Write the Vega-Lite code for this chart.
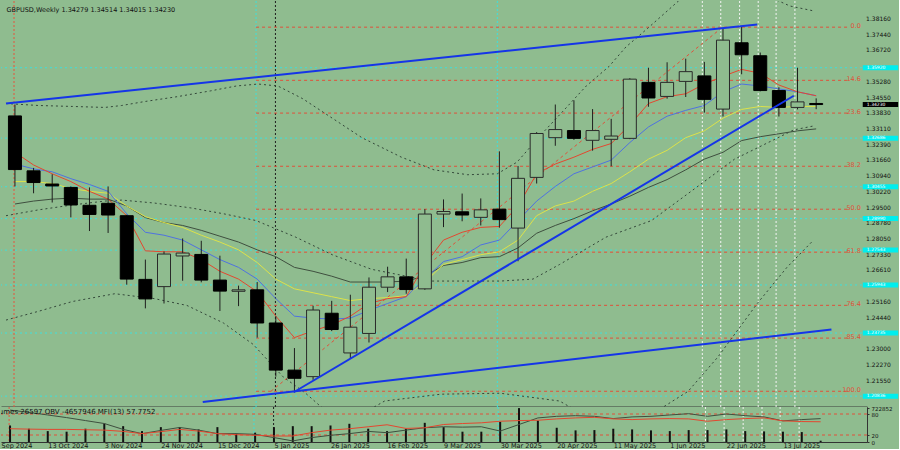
{
"$schema": "https://vega.github.io/schema/vega-lite/v6.json",
"background": "#8fbc8f",
"padding": 0,
"spacing": 0,
"bounds": "flush",
"config": {"view": {"stroke": null, "fill": "#8fbc8f"}, "axis": {"labelFont": "DejaVu Sans", "labelFontSize": 6.5, "labelColor": "#111", "domainColor": "#333", "tickColor": "#333", "grid": false, "title": null, "labelOverlap": false, "labelBound": false}, "text": {"font": "DejaVu Sans"}},
"datasets": {
"k": [
{"i":0,"o":1.33707,"h":1.34231,"l":1.30468,"c":1.31243,"r":1.32036,"b":1.31498,"yl":1.30692,"g":1.29662,"v":341000,"m":37.9,"obv":-3070000},
{"i":1,"o":1.31185,"h":1.31319,"l":1.30154,"c":1.30647,"r":1.31454,"b":1.31274,"yl":1.30692,"g":1.29796,"v":274000,"m":36.8,"obv":-3500000},
{"i":2,"o":1.3058,"h":1.31028,"l":1.29729,"c":1.3049,"r":1.3105,"b":1.3114,"yl":1.30602,"g":1.29886,"v":225000,"m":36,"obv":-3980000},
{"i":3,"o":1.30423,"h":1.30468,"l":1.29048,"c":1.29617,"r":1.30692,"b":1.30826,"yl":1.30378,"g":1.2993,"v":213000,"m":36,"obv":-4470000},
{"i":4,"o":1.29603,"h":1.30423,"l":1.2842,"c":1.29182,"r":1.30244,"b":1.30558,"yl":1.30244,"g":1.29886,"v":274000,"m":35,"obv":-5020000},
{"i":5,"o":1.29693,"h":1.30468,"l":1.28331,"c":1.29155,"r":1.29886,"b":1.30244,"yl":1.30154,"g":1.29886,"v":382000,"m":34,"obv":-5570000},
{"i":6,"o":1.29124,"h":1.29169,"l":1.25956,"c":1.26212,"r":1.29124,"b":1.29214,"yl":1.29572,"g":1.29572,"v":327000,"m":30.3,"obv":-6660000},
{"i":7,"o":1.26199,"h":1.27108,"l":1.24868,"c":1.25302,"r":1.27511,"b":1.28362,"yl":1.29079,"g":1.29034,"v":225000,"m":23.9,"obv":-7450000},
{"i":8,"o":1.25867,"h":1.2748,"l":1.25092,"c":1.27363,"r":1.27466,"b":1.28228,"yl":1.2881,"g":1.2881,"v":307000,"m":29.5,"obv":-6850000},
{"i":9,"o":1.27274,"h":1.2808,"l":1.26136,"c":1.27408,"r":1.27466,"b":1.28004,"yl":1.28586,"g":1.28676,"v":307000,"m":36,"obv":-6300000},
{"i":10,"o":1.27345,"h":1.27972,"l":1.26064,"c":1.26167,"r":1.27108,"b":1.27556,"yl":1.28228,"g":1.28452,"v":260000,"m":31.2,"obv":-6790000},
{"i":11,"o":1.26167,"h":1.27287,"l":1.24747,"c":1.25661,"r":1.2657,"b":1.27108,"yl":1.27914,"g":1.28183,"v":307000,"m":23.9,"obv":-7450000},
{"i":12,"o":1.25652,"h":1.25912,"l":1.24971,"c":1.25719,"r":1.26212,"b":1.2675,"yl":1.27556,"g":1.27914,"v":173000,"m":21,"obv":-7450000},
{"i":13,"o":1.25719,"h":1.26077,"l":1.23524,"c":1.24196,"r":1.2563,"b":1.26212,"yl":1.26974,"g":1.27556,"v":193000,"m":19.1,"obv":-7580000},
{"i":14,"o":1.24196,"h":1.24509,"l":1.21732,"c":1.22032,"r":1.2451,"b":1.25316,"yl":1.26212,"g":1.27242,"v":307000,"m":17.1,"obv":-8180000},
{"i":15,"o":1.22032,"h":1.23044,"l":1.21015,"c":1.21656,"r":1.23524,"b":1.2451,"yl":1.25764,"g":1.2675,"v":327000,"m":17.1,"obv":-8800000},
{"i":16,"o":1.21732,"h":1.24989,"l":1.21584,"c":1.24792,"r":1.23838,"b":1.2442,"yl":1.25585,"g":1.2657,"v":327000,"m":26.7,"obv":-8180000},
{"i":17,"o":1.24644,"h":1.25213,"l":1.23824,"c":1.23896,"r":1.24106,"b":1.24375,"yl":1.25406,"g":1.26346,"v":341000,"m":34,"obv":-7760000},
{"i":18,"o":1.2282,"h":1.25495,"l":1.22552,"c":1.24003,"r":1.2451,"b":1.2442,"yl":1.25226,"g":1.26078,"v":376000,"m":37.9,"obv":-7450000},
{"i":19,"o":1.23716,"h":1.26288,"l":1.233,"c":1.2584,"r":1.25092,"b":1.24778,"yl":1.25316,"g":1.26078,"v":274000,"m":43.5,"obv":-7030000},
{"i":20,"o":1.2584,"h":1.26781,"l":1.25616,"c":1.26315,"r":1.25316,"b":1.25092,"yl":1.25361,"g":1.26078,"v":225000,"m":49.2,"obv":-7270000},
{"i":21,"o":1.26315,"h":1.27153,"l":1.2554,"c":1.25732,"r":1.25406,"b":1.25406,"yl":1.2545,"g":1.26122,"v":274000,"m":38.8,"obv":-6790000},
{"i":22,"o":1.25764,"h":1.29424,"l":1.25719,"c":1.292,"r":1.26884,"b":1.26212,"yl":1.26078,"g":1.26346,"v":396000,"m":40.7,"obv":-6350000},
{"i":23,"o":1.292,"h":1.29872,"l":1.286,"c":1.29316,"r":1.28004,"b":1.27018,"yl":1.26884,"g":1.26839,"v":307000,"m":50,"obv":-6170000},
{"i":24,"o":1.29303,"h":1.30141,"l":1.28868,"c":1.29155,"r":1.28362,"b":1.27242,"yl":1.27108,"g":1.26974,"v":213000,"m":52.8,"obv":-6240000},
{"i":25,"o":1.29048,"h":1.29917,"l":1.28676,"c":1.29393,"r":1.28586,"b":1.2778,"yl":1.27332,"g":1.27198,"v":213000,"m":54.8,"obv":-6170000},
{"i":26,"o":1.29424,"h":1.3208,"l":1.28573,"c":1.28945,"r":1.28631,"b":1.28004,"yl":1.27466,"g":1.27242,"v":416000,"m":59.3,"obv":-6970000},
{"i":27,"o":1.28555,"h":1.31409,"l":1.27032,"c":1.3084,"r":1.29572,"b":1.289,"yl":1.28004,"g":1.27646,"v":700000,"m":61.2,"obv":-5750000},
{"i":28,"o":1.30884,"h":1.32963,"l":1.30602,"c":1.329,"r":1.3105,"b":1.29796,"yl":1.29124,"g":1.28318,"v":443000,"m":62.1,"obv":-4530000},
{"i":29,"o":1.32708,"h":1.34231,"l":1.32336,"c":1.3308,"r":1.31498,"b":1.30468,"yl":1.29572,"g":1.28676,"v":294000,"m":66,"obv":-4230000},
{"i":30,"o":1.33035,"h":1.34424,"l":1.32605,"c":1.32676,"r":1.31812,"b":1.3105,"yl":1.29796,"g":1.2899,"v":240000,"m":68.8,"obv":-4110000},
{"i":31,"o":1.32587,"h":1.3402,"l":1.32112,"c":1.33035,"r":1.3217,"b":1.31364,"yl":1.30244,"g":1.29348,"v":246000,"m":70.5,"obv":-4230000},
{"i":32,"o":1.32632,"h":1.33572,"l":1.31395,"c":1.32784,"r":1.32439,"b":1.31678,"yl":1.30602,"g":1.29662,"v":274000,"m":66,"obv":-4650000},
{"i":33,"o":1.32676,"h":1.35441,"l":1.3264,"c":1.35396,"r":1.3329,"b":1.32484,"yl":1.3114,"g":1.3002,"v":260000,"m":64,"obv":-4340000},
{"i":34,"o":1.35248,"h":1.3592,"l":1.34128,"c":1.34531,"r":1.34276,"b":1.33201,"yl":1.31722,"g":1.30423,"v":240000,"m":66,"obv":-4230000},
{"i":35,"o":1.34603,"h":1.36171,"l":1.345,"c":1.35248,"r":1.3459,"b":1.33694,"yl":1.32126,"g":1.30782,"v":225000,"m":66.9,"obv":-3980000},
{"i":36,"o":1.35293,"h":1.36337,"l":1.34576,"c":1.35741,"r":1.34724,"b":1.33962,"yl":1.32708,"g":1.3123,"v":246000,"m":66,"obv":-3740000},
{"i":37,"o":1.35544,"h":1.36189,"l":1.33859,"c":1.34468,"r":1.35172,"b":1.34186,"yl":1.33022,"g":1.31722,"v":246000,"m":59.3,"obv":-4230000},
{"i":38,"o":1.3402,"h":1.37712,"l":1.3368,"c":1.37188,"r":1.3553,"b":1.34814,"yl":1.33604,"g":1.32036,"v":260000,"m":64,"obv":-3800000},
{"i":39,"o":1.37067,"h":1.37815,"l":1.3562,"c":1.36516,"r":1.35844,"b":1.35172,"yl":1.34007,"g":1.32574,"v":225000,"m":66.9,"obv":-4110000},
{"i":40,"o":1.36471,"h":1.36619,"l":1.34836,"c":1.34872,"r":1.35665,"b":1.35082,"yl":1.34142,"g":1.32753,"v":219000,"m":68.8,"obv":-4340000},
{"i":41,"o":1.34872,"h":1.35024,"l":1.3368,"c":1.34097,"r":1.35127,"b":1.34948,"yl":1.34097,"g":1.32887,"v":213000,"m":60.4,"obv":-5070000},
{"i":42,"o":1.34097,"h":1.3592,"l":1.34007,"c":1.34352,"r":1.34814,"b":1.34814,"yl":1.34142,"g":1.33022,"v":205000,"m":58.4,"obv":-4840000},
{"i":43,"o":1.34279,"h":1.34514,"l":1.34015,"c":1.3423,"r":1.34634,"b":1.34634,"yl":1.34142,"g":1.33111,"v":26597,"m":57.7752,"obv":-4657946}
],
"bands": [
{"s":"u","i":-0.48,"p":1.34276},{"s":"u","i":1.27,"p":1.34186},{"s":"u","i":3.08,"p":1.34142},{"s":"u","i":4.83,"p":1.34097},{"s":"u","i":5.73,"p":1.34186},{"s":"u","i":6.95,"p":1.34366},{"s":"u","i":8.7,"p":1.3459},{"s":"u","i":10.5,"p":1.34858},{"s":"u","i":11.88,"p":1.35082},{"s":"u","i":13.05,"p":1.35172},{"s":"u","i":14.11,"p":1.35082},{"s":"u","i":15.44,"p":1.345},{"s":"u","i":17.03,"p":1.33604},{"s":"u","i":18.62,"p":1.32708},{"s":"u","i":20.74,"p":1.31812},{"s":"u","i":22.49,"p":1.3123},{"s":"u","i":24.3,"p":1.31006},{"s":"u","i":25.89,"p":1.3105},{"s":"u","i":26.95,"p":1.31588},{"s":"u","i":28.33,"p":1.32932},{"s":"u","i":29.6,"p":1.34097},{"s":"u","i":30.66,"p":1.35082},{"s":"u","i":31.88,"p":1.35978},{"s":"u","i":32.79,"p":1.36874},{"s":"u","i":34.01,"p":1.3777},{"s":"u","i":35.6,"p":1.3898},{"s":"u","i":37.72,"p":1.39652},{"s":"u","i":39.84,"p":1.39428},{"s":"u","i":41.59,"p":1.38756},{"s":"u","i":42.86,"p":1.38532},
{"s":"m","i":-0.48,"p":1.29124},{"s":"m","i":1.27,"p":1.29393},{"s":"m","i":3.08,"p":1.29617},{"s":"m","i":4.83,"p":1.29796},{"s":"m","i":5.73,"p":1.29841},{"s":"m","i":7.48,"p":1.29706},{"s":"m","i":9.44,"p":1.29482},{"s":"m","i":11.19,"p":1.29214},{"s":"m","i":12.94,"p":1.289},{"s":"m","i":15.07,"p":1.28138},{"s":"m","i":17.03,"p":1.27332},{"s":"m","i":19.15,"p":1.2666},{"s":"m","i":22.33,"p":1.26122},{"s":"m","i":26.05,"p":1.26122},{"s":"m","i":27.8,"p":1.26212},{"s":"m","i":29.23,"p":1.26884},{"s":"m","i":31.72,"p":1.28138},{"s":"m","i":34.16,"p":1.289},{"s":"m","i":36.5,"p":1.30378},{"s":"m","i":38.62,"p":1.31722},{"s":"m","i":41.8,"p":1.33066},{"s":"m","i":42.86,"p":1.33246},
{"s":"l","i":-0.48,"p":1.2433},{"s":"l","i":1.27,"p":1.24734},{"s":"l","i":3.08,"p":1.25182},{"s":"l","i":5.36,"p":1.2554},{"s":"l","i":7.48,"p":1.25316},{"s":"l","i":9.23,"p":1.25002},{"s":"l","i":11.19,"p":1.24196},{"s":"l","i":12.79,"p":1.2321},{"s":"l","i":14.38,"p":1.21732},{"s":"l","i":15.6,"p":1.2097},{"s":"l","i":17.56,"p":1.19492},{"s":"l","i":19.84,"p":1.20612},{"s":"l","i":22.86,"p":1.20926},{"s":"l","i":26.05,"p":1.2097},{"s":"l","i":29.23,"p":1.20612},{"s":"l","i":32.41,"p":1.19044},{"s":"l","i":36.13,"p":1.2106},{"s":"l","i":37.72,"p":1.22628},{"s":"l","i":39.84,"p":1.25092},{"s":"l","i":41.43,"p":1.2675},{"s":"l","i":42.86,"p":1.28004}
],
"ylab": [{"p":1.3816},{"p":1.3744},{"p":1.3672},{"p":1.3528},{"p":1.3455},{"p":1.3383},{"p":1.3311},{"p":1.3239},{"p":1.3166},{"p":1.3094},{"p":1.3022},{"p":1.295},{"p":1.2878},{"p":1.2805},{"p":1.2733},{"p":1.2661},{"p":1.2516},{"p":1.2444},{"p":1.23},{"p":1.2227},{"p":1.2155}],
"vlines": [{"vx":-0.05,"t":"red"},{"vx":12.94,"t":"cyan"},{"vx":13.98,"t":"black"},{"vx":25.89,"t":"cyan"},{"vx":36.89,"t":"white"},{"vx":37.88,"t":"white"},{"vx":38.89,"t":"white"},{"vx":39.89,"t":"white"},{"vx":40.85,"t":"white"},{"vx":41.86,"t":"white"}],
"lv": [{"p":1.3592,"t":"cyan"},{"p":1.32686,"t":"cyan"},{"p":1.30455,"t":"cyan"},{"p":1.2899,"t":"cyan"},{"p":1.27543,"t":"cyan"},{"p":1.25943,"t":"cyan"},{"p":1.23735,"t":"cyan"},{"p":1.20836,"t":"cyan"},{"p":1.3423,"t":"price"}],
"fib": [{"lv":"0.0","p":1.37784},{"lv":"14.6","p":1.35342},{"lv":"23.6","p":1.33837},{"lv":"38.2","p":1.31395},{"lv":"50.0","p":1.29422},{"lv":"61.8","p":1.27449},{"lv":"76.4","p":1.25007},{"lv":"85.4","p":1.23502},{"lv":"100.0","p":1.2106}],
"fibd": [{"i":13.74,"p":1.2106},{"i":37.98,"p":1.37784}],
"tl": [{"id":"a","i":-0.48,"p":1.34276},{"id":"a","i":39.84,"p":1.37905},{"id":"b","i":14.96,"p":1.21015},{"id":"b","i":41.8,"p":1.34634},{"id":"c","i":10.08,"p":1.20567},{"id":"c","i":43.82,"p":1.239}]
},
"vconcat": [
{
"width": 866, "height": 406,
"layer": [
{"data": {"name": "vlines"}, "mark": {"type": "rule", "strokeDash": [2, 2], "strokeWidth": 1},
 "encoding": {"x": {"field": "vx", "type": "quantitative", "scale": {"domain": [-0.48, 45.46], "nice": false, "zero": false}, "axis": {"orient": "bottom", "labels": false, "ticks": false, "domainWidth": 2, "domainColor": "#3c3c3c"}},
  "color": {"condition": [{"test": "datum.t == 'red'", "value": "#e4553c"}, {"test": "datum.t == 'black'", "value": "#1e1e1e"}, {"test": "datum.t == 'cyan'", "value": "#3ee0dc"}], "value": "#f4f4f4"}}},
{"data": {"name": "lv"}, "transform": [{"filter": "datum.t == 'cyan'"}], "mark": {"type": "rule", "strokeDash": [2, 3], "color": "#3ee0dc", "strokeWidth": 1},
 "encoding": {"y": {"field": "p", "type": "quantitative", "scale": {"domain": [1.20567, 1.38756], "nice": false, "zero": false},
  "axis": {"orient": "right", "values": [1.3816,1.3744,1.3672,1.3528,1.3455,1.3383,1.3311,1.3239,1.3166,1.3094,1.3022,1.295,1.2878,1.2805,1.2733,1.2661,1.2516,1.2444,1.23,1.2227,1.2155], "labels": false, "tickSize": 2}}}},
{"data": {"name": "ylab"}, "mark": {"type": "text", "align": "left", "baseline": "middle", "fontSize": 6, "color": "#111", "clip": false},
 "encoding": {"x": {"datum": 45.68}, "y": {"field": "p", "type": "quantitative", "axis": null}, "text": {"field": "p", "format": ".5f"}}},
{"data": {"name": "fib"}, "mark": {"type": "rule", "strokeDash": [3, 3], "color": "#e0503a", "strokeWidth": 1},
 "encoding": {"x": {"datum": 12.94}, "x2": {"datum": 44.75}, "y": {"field": "p", "type": "quantitative", "axis": null}}},
{"data": {"name": "fib"}, "mark": {"type": "text", "align": "right", "baseline": "bottom", "dy": 2, "fontSize": 6.5, "color": "#e0503a"},
 "encoding": {"x": {"datum": 45.4}, "y": {"field": "p", "type": "quantitative", "axis": null}, "text": {"field": "lv"}}},
{"data": {"name": "fibd"}, "mark": {"type": "line", "strokeDash": [3, 3], "color": "#e0503a", "strokeWidth": 1},
 "encoding": {"x": {"field": "i", "type": "quantitative"}, "y": {"field": "p", "type": "quantitative", "axis": null}}},
{"data": {"name": "bands"}, "mark": {"type": "line", "strokeDash": [2, 3], "color": "#34483a", "strokeWidth": 1, "clip": true},
 "encoding": {"x": {"field": "i", "type": "quantitative"}, "y": {"field": "p", "type": "quantitative", "axis": null}, "detail": {"field": "s"}}},
{"data": {"name": "k"}, "mark": {"type": "line", "color": "#3f4f3f", "strokeWidth": 1}, "encoding": {"x": {"field": "i", "type": "quantitative"}, "y": {"field": "g", "type": "quantitative", "axis": null}}},
{"data": {"name": "k"}, "mark": {"type": "line", "color": "#dce24a", "strokeWidth": 1}, "encoding": {"x": {"field": "i", "type": "quantitative"}, "y": {"field": "yl", "type": "quantitative", "axis": null}}},
{"data": {"name": "k"}, "mark": {"type": "line", "color": "#4f72e0", "strokeWidth": 1}, "encoding": {"x": {"field": "i", "type": "quantitative"}, "y": {"field": "b", "type": "quantitative", "axis": null}}},
{"data": {"name": "k"}, "mark": {"type": "line", "color": "#e4472f", "strokeWidth": 1}, "encoding": {"x": {"field": "i", "type": "quantitative"}, "y": {"field": "r", "type": "quantitative", "axis": null}}},
{"data": {"name": "k"}, "mark": {"type": "rule", "color": "#1e1e1e", "strokeWidth": 1}, "encoding": {"x": {"field": "i", "type": "quantitative"}, "y": {"field": "l", "type": "quantitative", "axis": null}, "y2": {"field": "h"}}},
{"data": {"name": "k"}, "mark": {"type": "bar", "size": 13, "strokeWidth": 1},
 "encoding": {"x": {"field": "i", "type": "quantitative"}, "y": {"field": "o", "type": "quantitative", "axis": null}, "y2": {"field": "c"},
  "fill": {"condition": {"test": "datum.c < datum.o", "value": "#000000"}, "value": "#8fbc8f"},
  "stroke": {"condition": {"test": "datum.c < datum.o", "value": "#000000"}, "value": "#2a2a2a"}}},
{"data": {"name": "tl"}, "mark": {"type": "line", "color": "#1535e8", "strokeWidth": 2, "clip": true},
 "encoding": {"x": {"field": "i", "type": "quantitative"}, "y": {"field": "p", "type": "quantitative", "axis": null}, "detail": {"field": "id"}}},
{"data": {"values": [{"s": "GBPUSD,Weekly  1.34279 1.34514 1.34015 1.34230"}]}, "mark": {"type": "text", "align": "left", "baseline": "top", "fontSize": 6.5, "color": "#111", "dy": 1},
 "encoding": {"x": {"datum": -0.45}, "y": {"datum": 1.38756}, "text": {"field": "s"}}},
{"data": {"name": "lv"}, "mark": {"type": "bar", "orient": "horizontal", "size": 5, "clip": false},
 "encoding": {"x": {"datum": 45.5}, "x2": {"datum": 47.4}, "y": {"field": "p", "type": "quantitative", "axis": null},
  "color": {"condition": {"test": "datum.t == 'price'", "value": "#000000"}, "value": "#00eeee"}}},
{"data": {"name": "lv"}, "mark": {"type": "text", "align": "left", "baseline": "middle", "fontSize": 4.5, "color": "#ffffff", "clip": false},
 "encoding": {"x": {"datum": 45.72}, "y": {"field": "p", "type": "quantitative", "axis": null}, "text": {"field": "p", "format": ".5f"}}}
]
},
{
"width": 866, "height": 35,
"layer": [
{"data": {"name": "vlines"}, "mark": {"type": "rule", "strokeDash": [2, 2], "strokeWidth": 1},
 "encoding": {"x": {"field": "vx", "type": "quantitative", "scale": {"domain": [-0.48, 45.46], "nice": false, "zero": false},
  "axis": {"orient": "bottom", "values": [-0.48,2,5,8,11,14,17,20,23,26,29,32,35,38,41], "labelExpr": "datum.value < 0 ? 'Sep 2024' : timeFormat(datetime(2024, 8, 29 + 7*datum.value), '%-d %b %Y')", "labelAlign": "left", "ticks": false, "labelPadding": 0, "labelOverlap": false, "labelBound": false, "domainColor": "#333"}},
  "color": {"condition": [{"test": "datum.t == 'red'", "value": "#e4553c"}, {"test": "datum.t == 'black'", "value": "#1e1e1e"}, {"test": "datum.t == 'cyan'", "value": "#3ee0dc"}], "value": "#f4f4f4"}}},
{"data": {"values": [{"lvl": 80}, {"lvl": 20}]}, "mark": {"type": "rule", "strokeDash": [3, 3], "color": "#e0503a", "strokeWidth": 1},
 "encoding": {"y": {"field": "lvl", "type": "quantitative", "scale": {"domain": [0, 100], "nice": false, "zero": true}, "axis": null}}},
{"data": {"name": "k"}, "mark": {"type": "rule", "strokeWidth": 2, "color": "#111"},
 "encoding": {"x": {"field": "i", "type": "quantitative"}, "y": {"field": "v", "type": "quantitative", "scale": {"domain": [0, 722852], "nice": false, "zero": true}, "axis": null}, "y2": {"datum": 0}}},
{"data": {"name": "k"}, "mark": {"type": "line", "color": "#3f4f3f", "strokeWidth": 1},
 "encoding": {"x": {"field": "i", "type": "quantitative"}, "y": {"field": "obv", "type": "quantitative", "scale": {"domain": [-9000000, -2500000], "nice": false, "zero": false}, "axis": null}}},
{"data": {"name": "k"}, "mark": {"type": "line", "color": "#e4472f", "strokeWidth": 1},
 "encoding": {"x": {"field": "i", "type": "quantitative"}, "y": {"field": "m", "type": "quantitative", "scale": {"domain": [0, 100], "nice": false, "zero": true},
  "axis": {"orient": "right", "values": [96, 80, 20, 0], "labelExpr": "datum.value == 96 ? '722852' : format(datum.value, 'd')", "labelFontSize": 5.5, "tickSize": 2, "labelPadding": 2, "labelOverlap": false, "labelBound": false}}}},
{"data": {"values": [{"s": "Volumes 26597  OBV -4657946  MFI(13) 57.7752"}]}, "mark": {"type": "text", "align": "left", "baseline": "top", "fontSize": 7, "color": "#111", "clip": true, "dy": 1},
 "encoding": {"x": {"datum": -1.15}, "y": {"datum": 100, "scale": {"domain": [0, 100], "nice": false}, "axis": null}, "text": {"field": "s"}}}
],
"resolve": {"scale": {"y": "independent"}}
}
]
}
